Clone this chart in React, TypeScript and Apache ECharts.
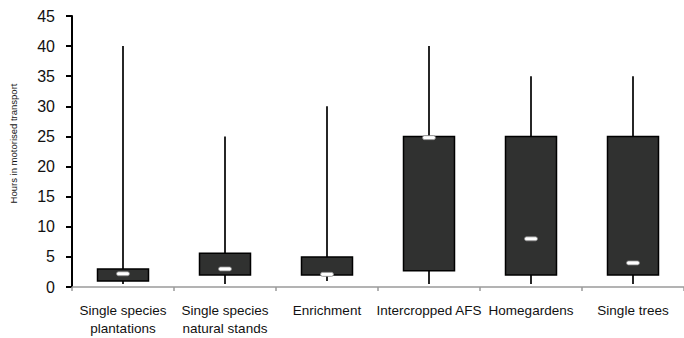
import React, { useEffect, useRef } from "react";
import * as echarts from "echarts";

const categories = [
  "Single species\nplantations",
  "Single species\nnatural stands",
  "Enrichment",
  "Intercropped AFS",
  "Homegardens",
  "Single trees",
];
const lowValues = [0.5, 0.5, 1, 0.5, 0.5, 0.5];
const q1Values = [1, 2, 2, 2.7, 2, 2];
const medianValues = [2.2, 3, 2.1, 24.8, 8, 4];
const q3Values = [3, 5.6, 5, 25, 25, 25];
const highValues = [40, 25, 30, 40, 35, 35];
const yTicks = { min: 0, max: 45, interval: 5 };

export default function App() {
  const ref = useRef<HTMLDivElement>(null);
  useEffect(() => {
    document.body.style.margin = "0";
    const chart = echarts.init(ref.current!, null, { renderer: "svg" });
    const data = categories.map((_, i) => [
      i,
      lowValues[i],
      q1Values[i],
      medianValues[i],
      q3Values[i],
      highValues[i],
    ]);
    chart.setOption({
      animation: false,
      backgroundColor: "#ffffff",
      grid: { left: 70.5, top: 16, width: 620, bottom: 51 },
      xAxis: {
        type: "category",
        data: categories,
        axisLine: { lineStyle: { color: "#9a9a9a", width: 1.5 } },
        axisTick: { show: true, length: 4, lineStyle: { color: "#9a9a9a", width: 1.5 } },
        axisLabel: {
          color: "#111",
          fontSize: 13.5,
          lineHeight: 18,
          margin: 14,
          fontFamily: "'Liberation Sans', Arial, sans-serif",
          interval: 0,
        },
      },
      yAxis: {
        type: "value",
        min: yTicks.min,
        max: yTicks.max,
        interval: yTicks.interval,
        splitLine: { show: false },
        axisLine: { show: true, lineStyle: { color: "#000", width: 2 } },
        axisTick: { show: true, length: 6, lineStyle: { color: "#000", width: 2 } },
        axisLabel: {
          color: "#111",
          fontSize: 16,
          margin: 17,
          fontFamily: "'Liberation Sans', Arial, sans-serif",
        },
        name: "Hours in motorised transport",
        nameLocation: "middle",
        nameGap: 54,
        nameTextStyle: {
          color: "#111",
          fontSize: 9.5,
          padding: [0, 0, 0, 16],
          fontFamily: "'Liberation Sans', Arial, sans-serif",
        },
      },
      series: [
        {
          type: "custom",
          data,
          encode: { x: 0, y: [1, 2, 3, 4, 5] },
          renderItem: (params: any, api: any) => {
            const idx = api.value(0);
            const low = api.coord([idx, api.value(1)]);
            const q1 = api.coord([idx, api.value(2)]);
            const med = api.coord([idx, api.value(3)]);
            const q3 = api.coord([idx, api.value(4)]);
            const high = api.coord([idx, api.value(5)]);
            const band = api.size([1, 0])[0];
            const w = band * 0.5;
            const cx = low[0];
            return {
              type: "group",
              children: [
                {
                  type: "line",
                  shape: { x1: cx, y1: high[1], x2: cx, y2: low[1] },
                  style: { stroke: "#000", lineWidth: 1.7 },
                },
                {
                  type: "rect",
                  shape: { x: cx - w / 2, y: q3[1], width: w, height: q1[1] - q3[1] },
                  style: { fill: "#303130", stroke: "#000", lineWidth: 1.5 },
                },
                {
                  type: "rect",
                  shape: { x: cx - 6.5, y: med[1] - 2, width: 13, height: 4, r: 2 },
                  style: { fill: "#ffffff", stroke: "#888", lineWidth: 0.8 },
                },
              ],
            };
          },
        },
      ],
    });
    return () => chart.dispose();
  }, []);
  return (
    <div
      ref={ref}
      style={{ position: "absolute", left: 0, top: 0, width: 684, height: 338 }}
    />
  );
}
